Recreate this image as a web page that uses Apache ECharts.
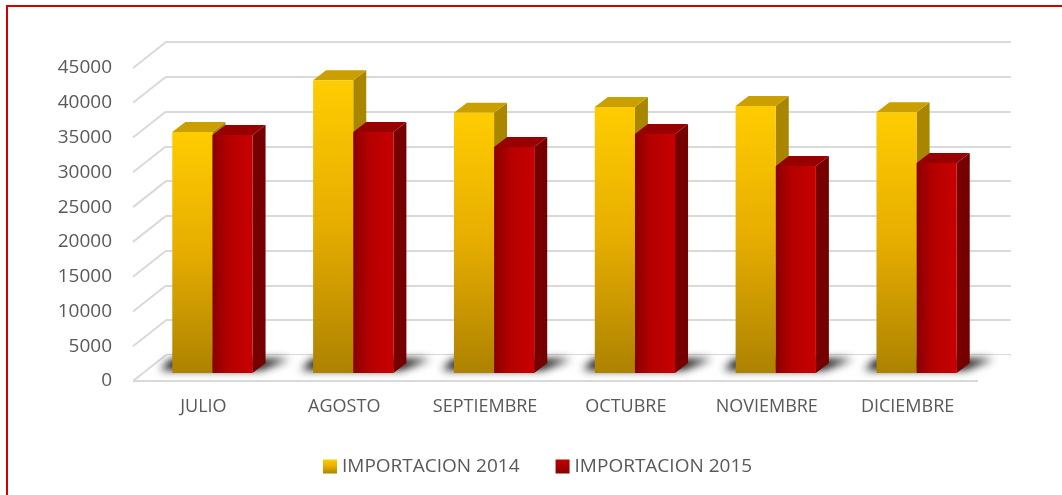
<!DOCTYPE html>
<html>
<head>
<meta charset="UTF-8">
<title>Importacion 2014 - 2015</title>
<script src="https://cdn.jsdelivr.net/npm/echarts@6/dist/echarts.min.js"></script>
<style>
html,body{margin:0;padding:0;background:#fff;}
#chart{width:1062px;height:495px;}
</style>
</head>
<body>
<div id="chart"></div>
<script type="text/javascript">
// datos
var meses = ['JULIO', 'AGOSTO', 'SEPTIEMBRE', 'OCTUBRE', 'NOVIEMBRE', 'DICIEMBRE'];
var imp2014 = [34650, 42100, 37400, 38250, 38400, 37500];
var imp2015 = [34200, 34650, 32500, 34350, 29750, 30200];
var yTicks = [0, 5000, 10000, 15000, 20000, 25000, 30000, 35000, 40000, 45000];

// perspectiva (pared del fondo y barras)
var WALL_DX = 33, WALL_DY = -26;
var BAR_DX = 9, BAR_DY = -8;
var TOP_DX = 13, TOP_DY = -10;
var GRID_LEFT = 133, GRID_TOP = 68, GRID_W = 845, GRID_H = 313;
var FUERA = 3000; // la forma de la sombra se dibuja fuera y solo se ve su desenfoque

var amarillo = new echarts.graphic.LinearGradient(0, 0, 0, 1, [
	{offset: 0, color: '#FFCC00'}, {offset: 0.5, color: '#E6AD00'}, {offset: 1, color: '#AD8200'}]);
var rojo = new echarts.graphic.LinearGradient(0, 0, 1, 0, [
	{offset: 0, color: '#8A0000'}, {offset: 0.4, color: '#B50000'}, {offset: 1, color: '#C80000'}]);
var estilos = [
	{front: amarillo, top: '#C9A000', side: '#A88600'},
	{front: rojo, top: '#980000', side: '#760000'}
];

function barItem(k) {
	return function(params, api) {
		var idx = api.value(0), val = api.value(1);
		var base = api.coord([idx, 0]);
		var top = api.coord([idx, val]);
		var bw = api.size([1, 0])[0] * 0.285;
		var x0 = base[0] + BAR_DX + (k === 0 ? -bw : 0);
		var x1 = x0 + bw;
		var yb = base[1] + BAR_DY, yt = top[1] + BAR_DY;
		var st = estilos[k];
		return {
			type: 'group',
			children: [
				{type: 'polygon', shape: {points: [[x1, yb], [x1 + TOP_DX, yb + TOP_DY], [x1 + TOP_DX, yt + TOP_DY], [x1, yt]]},
					style: {fill: st.side}},
				{type: 'polygon', shape: {points: [[x0, yt], [x1, yt], [x1 + TOP_DX, yt + TOP_DY], [x0 + TOP_DX, yt + TOP_DY]]},
					style: {fill: st.top}},
				{type: 'rect', shape: {x: x0, y: yt, width: bw, height: yb - yt},
					style: {fill: st.front}}
			]
		};
	};
}

function wallItem(params, api) {
	var v = api.value(0);
	var cs = params.coordSys;
	var y = api.coord([0, v])[1];
	var children = [{type: 'line', shape: {x1: cs.x, y1: y, x2: cs.x + WALL_DX, y2: y + WALL_DY},
		style: {stroke: '#D9D9D9', lineWidth: 2}}];
	if (v === 0) {
		children.unshift({type: 'polygon', shape: {points: [[cs.x, y], [cs.x + cs.width, y],
			[cs.x + cs.width + WALL_DX, y + WALL_DY], [cs.x + WALL_DX, y + WALL_DY]]},
			style: {fill: '#FFFFFF'}});
		children.push({type: 'line', shape: {x1: cs.x, y1: y, x2: cs.x + cs.width, y2: y},
			style: {stroke: '#D9D9D9', lineWidth: 2}});
	}
	return {type: 'group', children: children};
}

// sombra difusa detras de cada pareja de barras
function sombraItem(params, api) {
	var idx = api.value(0);
	var base = api.coord([idx, 0]);
	var bw = api.size([1, 0])[0] * 0.285;
	var xl = base[0] + BAR_DX - bw, xr = base[0] + BAR_DX + bw;
	var yb = base[1] + BAR_DY;
	return {
		type: 'polygon',
		x: FUERA,
		shape: {points: [[xl - 12, yb - 3], [xr + 8, yb - 3], [xr + TOP_DX + 24, yb + TOP_DY - 4], [xl + TOP_DX - 14, yb + TOP_DY - 4]]},
		style: {fill: '#000', shadowBlur: 9, shadowColor: 'rgba(0,0,0,0.95)', shadowOffsetX: -FUERA}
	};
}

var chart = echarts.init(document.getElementById('chart'));
var option = {
	animation: false,
	textStyle: {fontFamily: 'Open Sans'},
	graphic: [{type: 'rect', shape: {x: 7, y: 6, width: 1100, height: 600},
		style: {fill: 'none', stroke: '#D40000', lineWidth: 2}, z: 100}],
	legend: {
		left: 318, top: 452, itemWidth: 14, itemHeight: 14, itemGap: 36,
		icon: 'rect',
		textStyle: {color: '#595959', fontSize: 19, fontFamily: 'Open Sans'},
		data: ['IMPORTACION 2014', 'IMPORTACION 2015']
	},
	grid: [
		{left: GRID_LEFT, top: GRID_TOP, width: GRID_W, height: GRID_H},
		{left: GRID_LEFT + WALL_DX, top: GRID_TOP + WALL_DY, width: GRID_W, height: GRID_H}
	],
	xAxis: [
		{type: 'category', gridIndex: 0, data: meses,
			axisLine: {show: false}, axisTick: {show: false},
			axisLabel: {color: '#595959', fontSize: 18, margin: 17, interval: 0, fontFamily: 'Open Sans'}},
		{type: 'category', gridIndex: 1, data: meses, show: false}
	],
	yAxis: [
		{type: 'value', gridIndex: 0, min: 0, max: 45000, interval: 5000,
			axisLine: {show: false}, axisTick: {show: false}, splitLine: {show: false},
			axisLabel: {color: '#595959', fontSize: 19, margin: 21, fontFamily: 'Open Sans',
				verticalAlign: 'middle', padding: [0, 0, 5, 0],
				formatter: function(v) { return String(v); }}},
		{type: 'value', gridIndex: 1, min: 0, max: 45000, interval: 5000,
			axisLine: {show: false}, axisTick: {show: false}, axisLabel: {show: false},
			splitLine: {show: true, lineStyle: {color: '#D9D9D9', width: 2}}}
	],
	series: [
		{name: 'pared', type: 'custom', xAxisIndex: 0, yAxisIndex: 0, z: 1, silent: true,
			data: yTicks.map(function(v) { return [v]; }), renderItem: wallItem, encode: {y: 0}},
		{name: 'sombra', type: 'custom', xAxisIndex: 0, yAxisIndex: 0, z: 2, silent: true,
			data: meses.map(function(m, i) { return [i, 0]; }), renderItem: sombraItem},
		{name: 'IMPORTACION 2014', type: 'custom', xAxisIndex: 0, yAxisIndex: 0, z: 3,
			itemStyle: {color: amarillo},
			data: imp2014.map(function(v, i) { return [i, v]; }), renderItem: barItem(0)},
		{name: 'IMPORTACION 2015', type: 'custom', xAxisIndex: 0, yAxisIndex: 0, z: 4,
			itemStyle: {color: new echarts.graphic.LinearGradient(0, 0, 0, 1, [
				{offset: 0, color: '#C00000'}, {offset: 1, color: '#8A0000'}])},
			data: imp2015.map(function(v, i) { return [i, v]; }), renderItem: barItem(1)}
	]
};
chart.setOption(option);
</script>
</body>
</html>
